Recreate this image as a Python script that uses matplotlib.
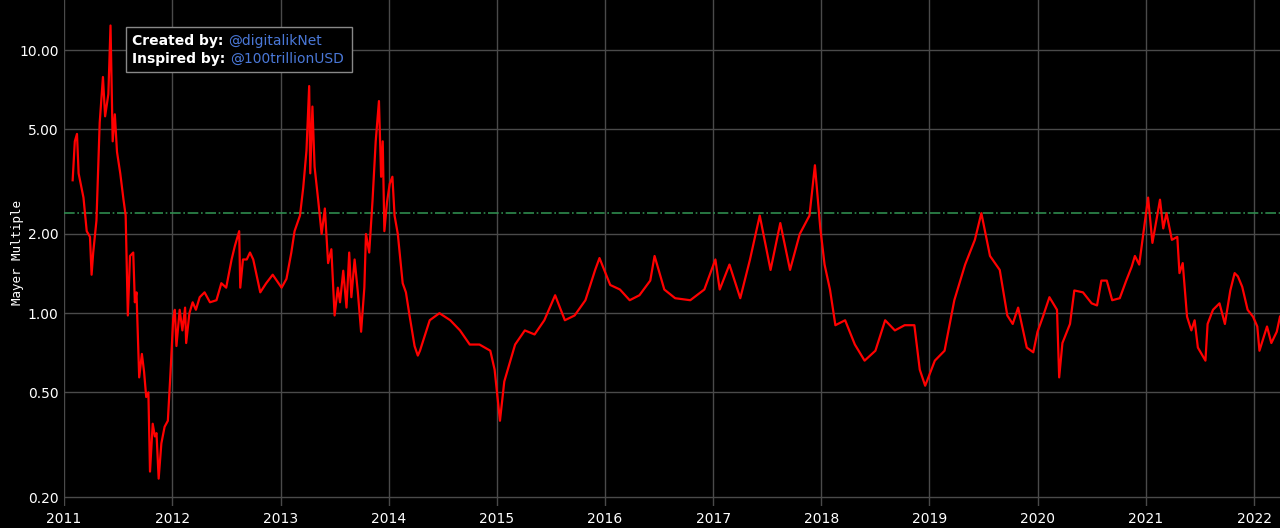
import matplotlib
matplotlib.use("Agg")
import matplotlib.pyplot as plt
import matplotlib.patches as mpatches
import numpy as np
import pandas as pd

years = [2011.08,2011.10,2011.12,2011.135,2011.18,2011.21,2011.24,2011.255,2011.27,2011.30,2011.33,2011.36,2011.38,2011.41,2011.43,2011.45,2011.47,2011.49,2011.52,2011.55,2011.57,2011.59,2011.61,2011.64,2011.655,2011.67,2011.695,2011.72,2011.74,2011.76,2011.78,2011.795,2011.82,2011.84,2011.855,2011.875,2011.90,2011.93,2011.96,2011.985,2012.01,2012.025,2012.04,2012.07,2012.095,2012.12,2012.13,2012.16,2012.19,2012.22,2012.255,2012.30,2012.35,2012.41,2012.455,2012.50,2012.55,2012.58,2012.62,2012.63,2012.655,2012.69,2012.72,2012.75,2012.78,2012.815,2012.87,2012.93,2013.01,2013.055,2013.10,2013.13,2013.18,2013.21,2013.24,2013.265,2013.275,2013.295,2013.315,2013.35,2013.38,2013.41,2013.44,2013.47,2013.50,2013.53,2013.55,2013.58,2013.61,2013.635,2013.655,2013.685,2013.715,2013.745,2013.775,2013.79,2013.82,2013.85,2013.88,2013.91,2013.93,2013.945,2013.96,2013.985,2014.01,2014.035,2014.055,2014.085,2014.13,2014.16,2014.19,2014.24,2014.27,
2014.29,2014.38,2014.47,2014.57,2014.66,2014.75,2014.84,2014.94,2014.98,2015.03,2015.07,2015.17,2015.26,2015.35,2015.44,2015.54,2015.63,2015.72,2015.82,2015.91,2015.95,2016.05,2016.14,2016.23,2016.32,2016.42,2016.46,2016.55,2016.65,2016.79,2016.92,2017.02,2017.06,2017.15,2017.25,2017.34,2017.43,2017.53,2017.62,2017.71,2017.80,2017.89,2017.94,2017.99,2018.03,2018.08,2018.13,2018.22,2018.31,2018.40,2018.50,2018.59,2018.68,2018.77,2018.86,2018.91,2018.96,2019.05,2019.14,2019.23,2019.33,2019.42,2019.48,2019.56,2019.65,
2019.72,2019.77,2019.82,2019.90,2019.96,2020.00,2020.05,2020.11,2020.18,2020.20,2020.23,2020.30,2020.34,2020.42,2020.50,2020.55,2020.59,2020.64,2020.69,2020.76,2020.82,2020.87,2020.90,2020.94,2020.97,2021.02,2021.06,2021.13,2021.16,2021.19,2021.24,2021.29,2021.31,2021.34,2021.38,2021.42,2021.45,2021.48,2021.55,2021.57,2021.62,2021.68,2021.73,2021.78,2021.82,2021.85,2021.89,2021.94,2021.99,2022.03,2022.05,2022.12,2022.16,2022.21,2022.24]
mayer = [3.2,4.5,4.8,3.4,2.75,2.05,1.95,1.4,1.7,2.25,5.3,7.9,5.6,6.8,12.4,4.5,5.7,4.1,3.4,2.7,2.35,0.98,1.65,1.7,1.1,1.2,0.57,0.7,0.6,0.48,0.5,0.25,0.38,0.34,0.35,0.235,0.32,0.37,0.39,0.6,0.95,1.03,0.75,1.03,0.86,1.05,0.77,1.0,1.1,1.03,1.15,1.2,1.1,1.12,1.3,1.25,1.6,1.8,2.05,1.25,1.6,1.6,1.7,1.6,1.4,1.2,1.3,1.4,1.25,1.35,1.7,2.05,2.35,3.0,4.15,7.3,3.4,6.1,3.6,2.65,2.0,2.5,1.55,1.75,0.98,1.25,1.1,1.45,1.05,1.7,1.15,1.6,1.2,0.85,1.25,2.0,1.7,2.65,4.5,6.4,3.3,4.5,2.05,2.65,3.1,3.3,2.35,2.0,1.3,1.2,1.0,0.75,0.69,
0.72,0.94,1.0,0.94,0.86,0.76,0.76,0.72,0.61,0.39,0.55,0.76,0.86,0.83,0.94,1.17,0.94,0.98,1.12,1.46,1.62,1.28,1.23,1.12,1.17,1.33,1.65,1.23,1.14,1.12,1.23,1.6,1.23,1.53,1.14,1.6,2.35,1.46,2.2,1.46,2.0,2.35,3.65,2.1,1.53,1.23,0.9,0.94,0.76,0.66,0.72,0.94,0.86,0.9,0.9,0.61,0.53,0.66,0.72,1.12,1.53,1.9,2.4,1.65,1.46,
0.98,0.91,1.05,0.74,0.71,0.85,0.97,1.15,1.03,0.57,0.77,0.91,1.22,1.2,1.09,1.07,1.33,1.33,1.12,1.14,1.33,1.5,1.65,1.53,1.9,2.75,1.85,2.7,2.1,2.4,1.9,1.95,1.42,1.55,0.97,0.86,0.94,0.74,0.66,0.91,1.03,1.09,0.91,1.22,1.42,1.38,1.26,1.03,0.97,0.89,0.72,0.89,0.77,0.85,0.97]
threshold = 2.4
ytick_vals = [0.2, 0.5, 1, 2, 5, 10]
ytick_labels = ["0.20", "0.50", "1.00", "2.00", "5.00", "10.00"]
xtick_years = list(range(2011, 2023))

def to_date(y):
    yr = int(np.floor(y))
    return pd.Timestamp(yr, 1, 1) + pd.Timedelta(days=(y - yr) * 365.25)

dates = [to_date(y) for y in years]

fig = plt.figure(figsize=(12.8, 5.28), dpi=100, facecolor="black")
ax = fig.add_axes([0.05, 0.0417, 0.95, 0.9583], facecolor="black")
ax.set_yscale("log")
ax.plot(dates, mayer, color="#ff0000", lw=1.6, zorder=3)
ax.axhline(threshold, color="#2e8b4e", lw=1.2, ls="-.", zorder=2)
ax.set_ylim(0.185, 15.5)
ax.set_xlim(to_date(2011.0), to_date(2022.24))
ax.set_yticks(ytick_vals)
ax.set_yticklabels(ytick_labels)
ax.set_yticks([], minor=True)
ax.set_xticks([pd.Timestamp(y, 1, 1) for y in xtick_years])
ax.set_xticklabels([str(y) for y in xtick_years])
ax.grid(True, color="#4a4a4a", lw=1, zorder=0)
ax.set_axisbelow(True)
for s in ax.spines.values():
    s.set_visible(False)
ax.tick_params(colors="white", labelsize=10, length=0, pad=4)
ax.set_ylabel("Mayer Multiple", color="white", family="DejaVu Sans Mono", fontsize=9)
ax.yaxis.set_label_coords(-40/1216, 0.5)

rect = mpatches.Rectangle((126/1280, 1-72/528), 226/1280, 45/528, transform=fig.transFigure,
                          facecolor="black", edgecolor="#888888", lw=1, zorder=5)
fig.patches.append(rect)
t1 = fig.text(132/1280, 1-41/528, "Created by: ", color="white", fontweight="bold", fontsize=10, va="center", zorder=6)
t2 = fig.text(132/1280, 1-59/528, "Inspired by: ", color="white", fontweight="bold", fontsize=10, va="center", zorder=6)
fig.canvas.draw()
r = fig.canvas.get_renderer()
inv = fig.transFigure.inverted()
x1 = inv.transform(t1.get_window_extent(r))[1][0]
x2 = inv.transform(t2.get_window_extent(r))[1][0]
fig.text(x1, 1-41/528, "@digitalikNet", color="#4a78d8", fontsize=10, va="center", zorder=6)
fig.text(x2, 1-59/528, "@100trillionUSD", color="#4a78d8", fontsize=10, va="center", zorder=6)

fig.savefig("out.png", dpi=100, facecolor="black")
